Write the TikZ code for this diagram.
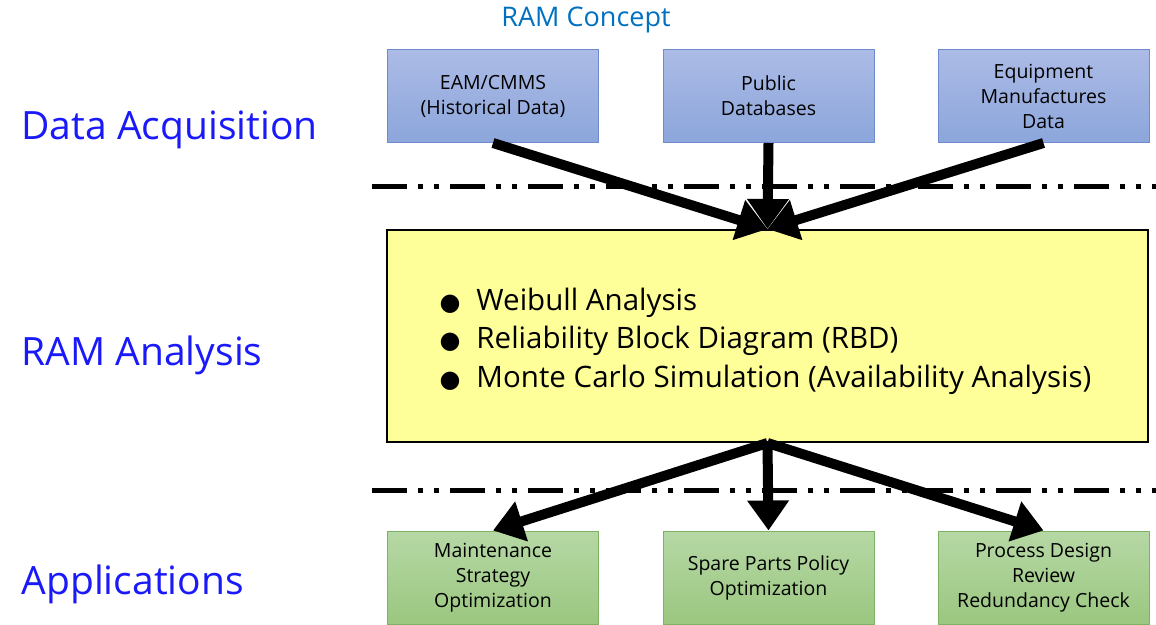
\documentclass[tikz,border=0pt]{standalone}
\usepackage{fontspec}
\setmainfont{Open Sans}
\newfontfamily\symfont{DejaVu Sans}
\usetikzlibrary{arrows.meta}
\definecolor{conceptblue}{RGB}{0,112,192}
\definecolor{stageblue}{RGB}{25,25,250}
\definecolor{srctop}{RGB}{172,187,230}
\definecolor{srcbot}{RGB}{140,166,219}
\definecolor{srcline}{RGB}{110,140,205}
\definecolor{apptop}{RGB}{182,216,165}
\definecolor{appbot}{RGB}{155,199,128}
\definecolor{appline}{RGB}{125,178,100}
\definecolor{ramfill}{RGB}{255,255,153}

\begin{document}
\begin{tikzpicture}[x=1pt,y=-1pt,
  stage/.style={anchor=base west,text=stageblue,font=\fontsize{39}{44}\selectfont},
  srcbox/.style={draw=srcline,line width=1pt,top color=srctop,bottom color=srcbot,
    minimum width=211pt,minimum height=93pt,align=center,inner sep=0pt,
    font=\fontsize{19.5}{25}\selectfont},
  appbox/.style={srcbox,draw=appline,top color=apptop,bottom color=appbot},
  divider/.style={line width=5pt,dash pattern=on 35pt off 11pt on 5pt off 11pt on 5pt off 11pt},
  flow/.style={line width=10pt,-{Triangle[length=30pt,width=40pt]}}]
  \useasboundingbox (0,0) rectangle (1156,624);
  \node (concept) at (586,20) {\textcolor{conceptblue}{\fontsize{27}{30}\selectfont RAM Concept}};
  \node[stage] (acq) at (18,139) {Data Acquisition};
  \node[stage] (ana) at (18,365) {RAM Analysis};
  \node[stage] (app) at (18,594) {Applications};
  \node[srcbox] (eam) at (493,96) {EAM/CMMS\\(Historical Data)};
  \node[srcbox] (pub) at (768.5,96) {Public\\Databases};
  \node[srcbox] (equ) at (1043.5,96) {Equipment\\Manufactures\\Data};
  \node[draw=black,line width=2pt,fill=ramfill,minimum width=761pt,minimum height=212pt]
    (ram) at (767.5,336) {};
  \node[anchor=west,align=left,font=\fontsize{29.5}{38.5}\selectfont] (items) at (436,341)
    {{\symfont\fontsize{24}{24}\selectfont ●}\hspace{16pt}Weibull Analysis\\
     {\symfont\fontsize{24}{24}\selectfont ●}\hspace{16pt}Reliability Block Diagram (RBD)\\
     {\symfont\fontsize{24}{24}\selectfont ●}\hspace{16pt}Monte Carlo Simulation (Availability Analysis)};
  \node[appbox] (mso) at (493,577.5) {Maintenance\\Strategy\\Optimization};
  \node[appbox] (spo) at (768.5,577.5) {Spare Parts Policy\\Optimization};
  \node[appbox] (pdr) at (1043.5,577.5) {Process Design\\Review\\Redundancy Check};
  \coordinate (d1a) at (372,186);
  \coordinate (d1b) at (1156,186);
  \coordinate (d2a) at (372,490);
  \coordinate (d2b) at (1156,490);
  \draw[divider] (d1a) -- (d1b);
  \draw[divider] (d2a) -- (d2b);
  \draw[flow] (eam.south) -- (ram.north);
  \draw[flow] (pub.south) -- (ram.north);
  \draw[flow] (equ.south) -- (ram.north);
  \draw[flow] (ram.south) -- (mso.north);
  \draw[flow] (ram.south) -- (spo.north);
  \draw[flow] (ram.south) -- (pdr.north);
\end{tikzpicture}
\end{document}
